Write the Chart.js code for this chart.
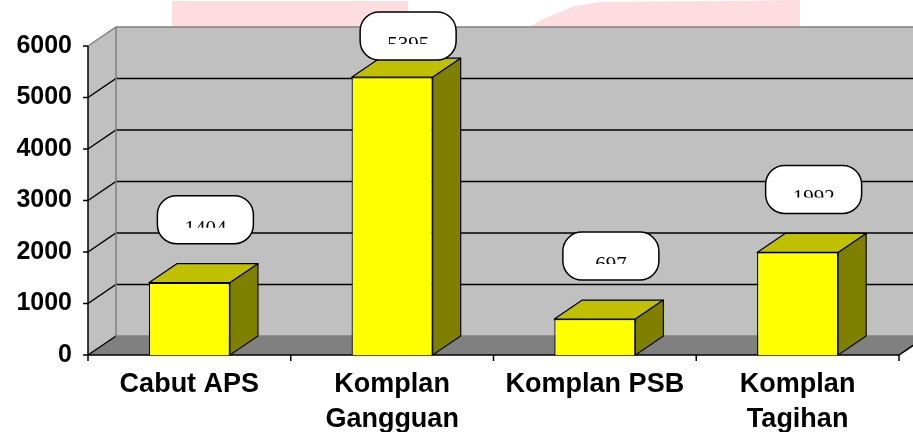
<!DOCTYPE html>
<html>
<head>
<meta charset="utf-8">
<script src="https://cdn.jsdelivr.net/npm/chart.js@4.4.0/dist/chart.umd.min.js"></script>
<style>
  html, body { margin: 0; padding: 0; background: #fff; }
</style>
</head>
<body>
<canvas id="gangguan-chart" width="913" height="432"></canvas>
<script>
const categories = [["Cabut APS"], ["Komplan", "Gangguan"], ["Komplan PSB"], ["Komplan", "Tagihan"]];
const values = [1404, 5395, 697, 1992];
const valueLabels = ["1404", "5395", "697", "1992"];
const yTicks = [0, 1000, 2000, 3000, 4000, 5000, 6000];

// depth of the fake 3d box
const DX = 28;
const DY = -19;

function poly(ctx, pts, fill, stroke, lw) {
  ctx.beginPath();
  ctx.moveTo(pts[0][0], pts[0][1]);
  for (let i = 1; i < pts.length; i++) ctx.lineTo(pts[i][0], pts[i][1]);
  ctx.closePath();
  if (fill) { ctx.fillStyle = fill; ctx.fill(); }
  if (stroke) { ctx.strokeStyle = stroke; ctx.lineWidth = lw || 1; ctx.stroke(); }
}

function pill(ctx, x, y, w, h, r) {
  ctx.beginPath();
  ctx.moveTo(x + r, y);
  ctx.arcTo(x + w, y, x + w, y + h, r);
  ctx.arcTo(x + w, y + h, x, y + h, r);
  ctx.arcTo(x, y + h, x, y, r);
  ctx.arcTo(x, y, x + w, y, r);
  ctx.closePath();
}

const watermark = {
  id: "watermark",
  beforeDraw(chart) {
    const ctx = chart.ctx;
    ctx.save();
    ctx.fillStyle = "#fddde0";
    ctx.fillRect(172, 1, 236, 30);
    ctx.beginPath();
    ctx.moveTo(524, 30);
    ctx.lineTo(545, 18);
    ctx.lineTo(575, 6);
    ctx.lineTo(600, 2);
    ctx.lineTo(800, 0);
    ctx.lineTo(800, 30);
    ctx.closePath();
    ctx.fill();
    ctx.restore();
  }
};

const box3d = {
  id: "box3d",
  beforeDatasetsDraw(chart) {
    const ctx = chart.ctx;
    const a = chart.chartArea;
    const ys = chart.scales.y;
    const xs = chart.scales.x;
    const L = a.left, R = a.right, T = a.top, B = a.bottom;
    ctx.save();
    // back wall + side wall
    poly(ctx, [[L + DX, T + DY], [R + DX, T + DY], [R + DX, B + DY], [L + DX, B + DY]], "#c0c0c0");
    poly(ctx, [[L, T], [L + DX, T + DY], [L + DX, B + DY], [L, B]], "#c0c0c0");
    // floor
    poly(ctx, [[L, B], [L + DX, B + DY], [R + DX, B + DY], [R, B]], "#808080");

    // grid lines on walls
    ctx.lineWidth = 1.5;
    yTicks.forEach((v) => {
      const yy = ys.getPixelForValue(v);
      ctx.strokeStyle = v === yTicks[yTicks.length - 1] ? "#808080" : "#000";
      ctx.beginPath();
      ctx.moveTo(L, yy);
      ctx.lineTo(L + DX, yy + DY);
      if (v !== 0) ctx.lineTo(R + DX, yy + DY);
      ctx.stroke();
    });
    ctx.strokeStyle = "#808080";
    ctx.beginPath();
    ctx.moveTo(L + DX, T + DY);
    ctx.lineTo(L + DX, B + DY);
    ctx.lineTo(R + DX, B + DY);
    ctx.stroke();

    // front axis lines + ticks
    ctx.strokeStyle = "#000";
    ctx.lineWidth = 1.5;
    ctx.beginPath();
    ctx.moveTo(L, T);
    ctx.lineTo(L, B);
    ctx.lineTo(R, B);
    ctx.lineTo(R + DX, B + DY);
    yTicks.forEach((v) => {
      const yy = ys.getPixelForValue(v);
      ctx.moveTo(L - 5, yy);
      ctx.lineTo(L, yy);
    });
    for (let i = 0; i <= categories.length; i++) {
      const xx = xs.getPixelForValue(i - 0.5);
      ctx.moveTo(xx, B);
      ctx.lineTo(xx, B + 6);
    }
    ctx.stroke();
    ctx.restore();
  },
  afterDatasetsDraw(chart) {
    const ctx = chart.ctx;
    const meta = chart.getDatasetMeta(0);
    ctx.save();
    ctx.lineJoin = "round";
    meta.data.forEach((bar) => {
      const p = bar.getProps(["x", "y", "base", "width"], true);
      const l = p.x - p.width / 2, r = p.x + p.width / 2;
      poly(ctx, [[l, p.y], [l + DX, p.y + DY], [r + DX, p.y + DY], [r, p.y]], "#c0c000", "#000", 1.2);
      poly(ctx, [[r, p.y], [r + DX, p.y + DY], [r + DX, p.base + DY], [r, p.base]], "#808000", "#000", 1.2);
    });

    // value callouts
    meta.data.forEach((bar, i) => {
      const p = bar.getProps(["x", "y"], true);
      const w = 96, h = 48;
      const cx = p.x + 16;
      let top = p.y - 39 - h;
      if (top < 12) top = 12;
      const left = cx - w / 2;
      pill(ctx, left, top, w, h, 19);
      ctx.fillStyle = "#fff";
      ctx.fill();
      ctx.strokeStyle = "#000";
      ctx.lineWidth = 1.5;
      ctx.stroke();
      ctx.save();
      ctx.beginPath();
      ctx.rect(left, top, w, 32);
      ctx.clip();
      ctx.fillStyle = "#000";
      ctx.font = '21px "Liberation Serif", "Times New Roman", serif';
      ctx.textAlign = "center";
      ctx.textBaseline = "alphabetic";
      ctx.fillText(valueLabels[i], cx, top + 39);
      ctx.restore();
    });
    ctx.restore();
  }
};

const data1 = {
  labels: categories,
  datasets: [
    {
      data: values,
      backgroundColor: "#ffff00",
      borderColor: "#000",
      borderWidth: 1.2,
      barPercentage: 0.4,
      categoryPercentage: 1,
    },
  ],
};

const config1 = {
  type: "bar",
  data: data1,
  options: {
    responsive: false,
    animation: false,
    layout: { padding: { top: 46, right: 14, left: 0, bottom: 0 } },
    plugins: {
      legend: { display: false },
      tooltip: { enabled: false },
    },
    scales: {
      x: {
        grid: { display: false },
        border: { display: false },
        ticks: {
          color: "#000",
          padding: 4,
          maxRotation: 0,
          autoSkip: false,
          font: { family: '"Liberation Sans", Arial, sans-serif', size: 27, weight: "bold", lineHeight: 1.3 },
        },
        afterFit(scale) { scale.height = 77; },
      },
      y: {
        min: 0,
        max: 6000,
        grid: { display: false },
        border: { display: false },
        ticks: {
          stepSize: 1000,
          color: "#000",
          padding: 8,
          callback: (v) => String(v),
          font: { family: '"Liberation Sans", Arial, sans-serif', size: 25, weight: "bold" },
        },
        afterFit(scale) { scale.width = 88; },
      },
    },
  },
  plugins: [watermark, box3d],
};

const myChart1 = new Chart(document.getElementById("gangguan-chart"), config1);
</script>
</body>
</html>
